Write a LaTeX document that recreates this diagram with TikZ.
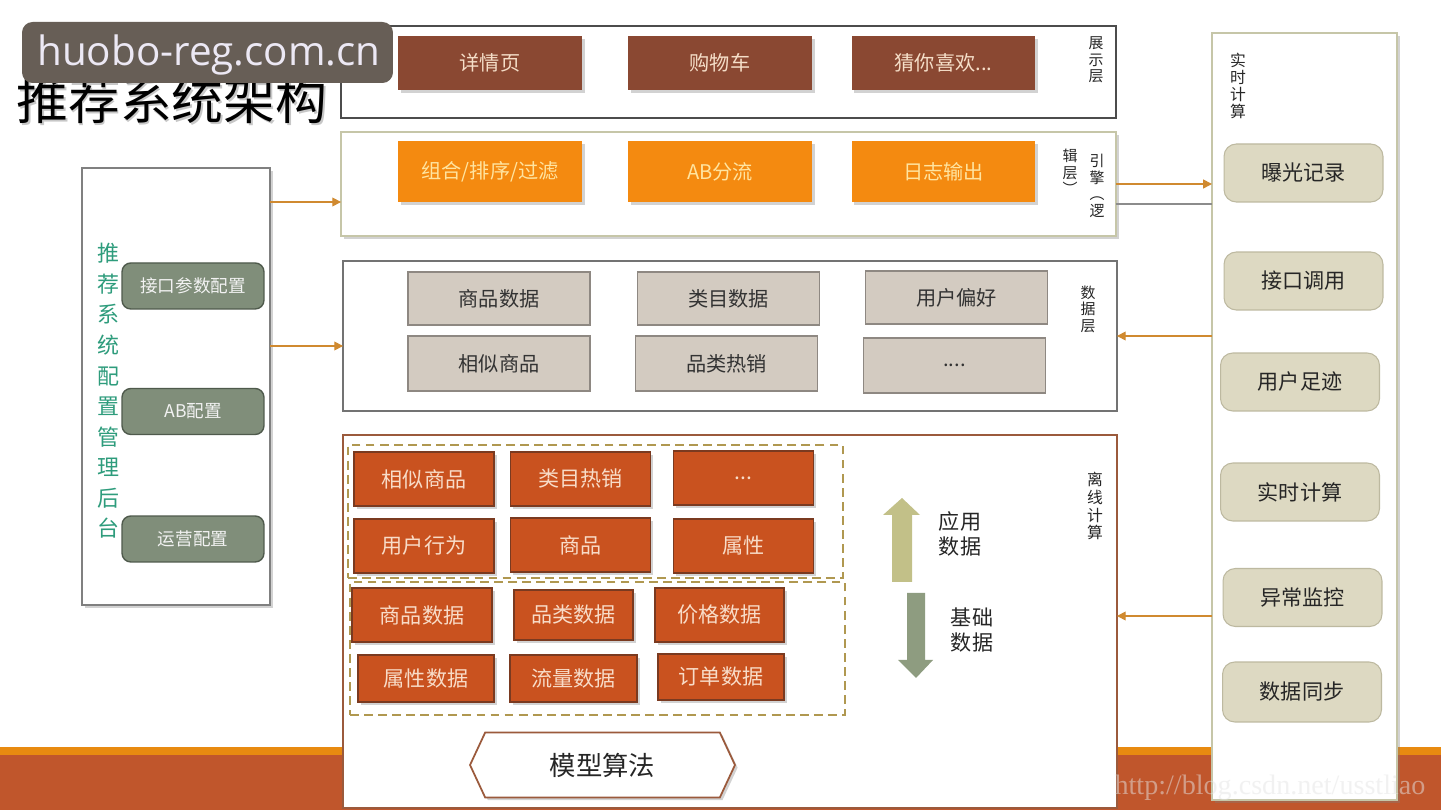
\documentclass[tikz,border=0pt]{standalone}
\usepackage{fontspec}
\setmainfont{Noto Sans CJK SC}
\newfontfamily\wmfont{Open Sans}
\newfontfamily\serifwm{Liberation Serif}
\usetikzlibrary{shadows,arrows.meta,shapes.symbols}
\definecolor{showbrown}{HTML}{8A4832}
\definecolor{showtext}{HTML}{F5DEC8}
\definecolor{engorange}{HTML}{F48A10}
\definecolor{engtext}{HTML}{FFE4A0}
\definecolor{datagray}{HTML}{D3CBC1}
\definecolor{databorder}{HTML}{8E8882}
\definecolor{offred}{HTML}{C9521F}
\definecolor{offborder}{HTML}{7A3A20}
\definecolor{offtext}{HTML}{F8DCC8}
\definecolor{dashcol}{HTML}{B09850}
\definecolor{uparr}{HTML}{C2C088}
\definecolor{downarr}{HTML}{8E9C80}
\definecolor{cfggreen}{HTML}{808E7A}
\definecolor{cfgborder}{HTML}{4F5A4C}
\definecolor{tealtext}{HTML}{2E9C7C}
\definecolor{rtbox}{HTML}{DDD9C2}
\definecolor{rtboxborder}{HTML}{BDB9A0}
\definecolor{rtborder}{HTML}{C6C6A8}
\definecolor{arrorange}{HTML}{D08A30}
\definecolor{barorange}{HTML}{E88A10}
\definecolor{barbrown}{HTML}{C0562C}
\definecolor{wmgray}{HTML}{675E56}
\definecolor{wmtext}{HTML}{ECE8F4}
\definecolor{hexborder}{HTML}{9B5A3C}
\tikzset{
  layer/.style={draw, fill=white, inner sep=0pt, outer sep=0pt, line width=1pt},
  shd/.style={drop shadow={shadow xshift=1.5pt, shadow yshift=-1.5pt, opacity=0.35}},
  showbox/.style={fill=showbrown, text=showtext, minimum width=3.68cm, minimum height=1.08cm, inner sep=0pt, font=\fontsize{11.5}{13}\selectfont, shd},
  engbox/.style={fill=engorange, text=engtext, minimum width=3.68cm, minimum height=1.22cm, inner sep=0pt, font=\fontsize{11.5}{13}\selectfont, shd},
  databox/.style={fill=datagray, draw=databorder, line width=0.6pt, text=black!80, minimum width=3.64cm, inner sep=0pt, font=\fontsize{11.5}{13}\selectfont},
  offbox/.style={fill=offred, draw=offborder, line width=0.6pt, text=offtext, inner sep=0pt, font=\fontsize{12}{14}\selectfont, shd},
  dashbox/.style={draw=dashcol, dashed, line width=1pt, dash pattern=on 5pt off 3pt, inner sep=0pt},
  cfgbox/.style={fill=cfggreen, draw=cfgborder, line width=0.8pt, rounded corners=5pt, text=white!95!black, minimum width=2.84cm, minimum height=0.92cm, inner sep=0pt, font=\fontsize{10}{12}\selectfont},
  rtitem/.style={fill=rtbox, draw=rtboxborder, line width=0.6pt, rounded corners=7pt, text=black!85, minimum width=3.18cm, minimum height=1.16cm, inner sep=0pt, font=\fontsize{12}{14}\selectfont},
  vlabel/.style={align=center, inner sep=0pt, text=black!85, font=\fontsize{8.5}{9.4}\selectfont},
  arr/.style={draw=arrorange, line width=0.8pt, -{Triangle[length=5pt,width=5pt]}},
  txt/.style={align=center, inner sep=0pt, text=black!85, font=\fontsize{12}{14.2}\selectfont}
}
\begin{document}
\begin{tikzpicture}[x=0.02cm,y=-0.02cm]
\useasboundingbox (0,0) rectangle (1441,810);
\fill[white] (0,0) rectangle (1441,810);
\fill[barorange] (0,747) rectangle (1441,755);
\fill[barbrown] (0,755) rectangle (1441,810);

% ---------- layers ----------
\node[layer, draw=black!70, minimum width=15.5cm, minimum height=1.84cm] (show) at (728.5,72) {};
\node[layer, draw=rtborder, minimum width=15.5cm, minimum height=2.08cm, shd] (eng) at (728.5,184) {};
\node[layer, draw=black!55, minimum width=15.48cm, minimum height=3.0cm] (data) at (730,336) {};
\node[layer, draw=hexborder, minimum width=15.48cm, minimum height=7.46cm] (off) at (730,621.5) {};

% show layer
\node[showbox] (s1) at (490,63) {详情页};
\node[showbox] (s2) at (720,63) {购物车};
\node[showbox] (s3) at (943.5,63) {猜你喜欢...};
\node[vlabel] (showlbl) at (1096,60) {展\\示\\层};

% engine layer
\node[engbox] (e1) at (490,171.5) {组合/排序/过滤};
\node[engbox] (e2) at (720,171.5) {AB分流};
\node[engbox] (e3) at (943.5,171.5) {日志输出};
\node[vlabel] (englblA) at (1097,186) {引\\擎\\︵\\逻};
\node[vlabel] (englblB) at (1070,172) {辑\\层\\︶};

% data layer
\node[databox, minimum height=1.06cm] (d1) at (499,298.5) {商品数据};
\node[databox, minimum height=1.06cm] (d2) at (728.5,298.5) {类目数据};
\node[databox, minimum height=1.06cm] (d3) at (956.5,297.5) {用户偏好};
\node[databox, minimum height=1.1cm] (d4) at (499,363.5) {相似商品};
\node[databox, minimum height=1.1cm] (d5) at (726.5,363.5) {品类热销};
\node[databox, minimum height=1.1cm] (d6) at (954.5,365.5) {....};
\node[vlabel] (datalbl) at (1088,309) {数\\据\\层};

% offline layer
\node[dashbox, minimum width=9.9cm, minimum height=2.66cm] (dash1) at (595.5,511.5) {};
\node[dashbox, minimum width=9.9cm, minimum height=2.66cm] (dash2) at (597.5,648.5) {};
\node[offbox, minimum width=2.8cm, minimum height=1.08cm] (o1) at (424,479) {相似商品};
\node[offbox, minimum width=2.8cm, minimum height=1.08cm] (o2) at (580.5,479) {类目热销};
\node[offbox, minimum width=2.8cm, minimum height=1.08cm] (o3) at (743.5,478) {...};
\node[offbox, minimum width=2.8cm, minimum height=1.08cm] (o4) at (424,546) {用户行为};
\node[offbox, minimum width=2.8cm, minimum height=1.08cm] (o5) at (580.5,545) {商品};
\node[offbox, minimum width=2.8cm, minimum height=1.08cm] (o6) at (743.5,546) {属性};
\node[offbox, minimum width=2.8cm, minimum height=1.08cm] (o7) at (422,615) {商品数据};
\node[offbox, minimum width=2.38cm, minimum height=1.0cm] (o8) at (573.5,615) {品类数据};
\node[offbox, minimum width=2.58cm, minimum height=1.08cm] (o9) at (719.5,615) {价格数据};
\node[offbox, minimum width=2.72cm, minimum height=0.94cm] (o10) at (426,678.5) {属性数据};
\node[offbox, minimum width=2.54cm, minimum height=0.94cm] (o11) at (573.5,678.5) {流量数据};
\node[offbox, minimum width=2.52cm, minimum height=0.92cm] (o12) at (721,677) {订单数据};
\node[vlabel, font=\fontsize{9}{10.2}\selectfont] (offlbl) at (1095,506) {离\\线\\计\\算};

% up / down block arrows
\fill[uparr] (892,582) -- (892,515) -- (883,515) -- (902,498) -- (920,515) -- (912,515) -- (912,582) -- cycle;
\fill[downarr] (907,593) -- (925,593) -- (925,660) -- (933,660) -- (916,678) -- (898,660) -- (907,660) -- cycle;
\node[txt] (appdata) at (960,534) {应用\\数据};
\node[txt] (basedata) at (972,630) {基础\\数据};

% model algorithm
\node[signal, signal to=west and east, signal pointer angle=130, draw=hexborder, line width=1pt, fill=white,
      minimum width=5.3cm, minimum height=1.3cm, inner sep=0pt, text=black!85,
      font=\fontsize{15}{17}\selectfont, shd] (model) at (602.5,765) {模型算法};

% ---------- right column ----------
\node[layer, draw=rtborder, line width=1.2pt, minimum width=3.7cm, minimum height=15.34cm, shd] (rt) at (1304.5,416.5) {};
\node[vlabel, font=\fontsize{9}{9.8}\selectfont] (rtlbl) at (1238,86) {实\\时\\计\\算};
\node[rtitem] (r1) at (1303.5,173) {曝光记录};
\node[rtitem] (r2) at (1303.5,281) {接口调用};
\node[rtitem] (r3) at (1300,382) {用户足迹};
\node[rtitem] (r4) at (1300,492) {实时计算};
\node[rtitem] (r5) at (1302.5,597.5) {异常监控};
\node[rtitem, minimum height=1.2cm] (r6) at (1302,692) {数据同步};

% ---------- left panel ----------
\node[layer, draw=black!50, line width=0.9pt, minimum width=3.76cm, minimum height=8.74cm, shd] (left) at (176,386.5) {};
\node[align=center, inner sep=0pt, text=tealtext, font=\fontsize{12.5}{17.4}\selectfont] (leftlbl) at (108,391) {推\\荐\\系\\统\\配\\置\\管\\理\\后\\台};
\node[cfgbox] (c1) at (193,286) {接口参数配置};
\node[cfgbox] (c2) at (193,411.5) {AB配置};
\node[cfgbox] (c3) at (193,539) {运营配置};

% ---------- connectors ----------
\coordinate (yA) at (0,202);
\coordinate (yB) at (0,346);
\coordinate (yC) at (0,204);
\coordinate (yD) at (0,616);
\draw[arr] (left.east |- yA) -- (eng.west |- yA);
\draw[arr] (left.east |- yB) -- (data.west |- yB);
\draw[arr] (eng.east) -- (rt.west |- eng.east);
\draw[draw=black!45, line width=0.8pt] (eng.east |- yC) -- (rt.west |- yC);
\draw[arr] (rt.west |- data.east) -- (data.east);
\draw[arr] (rt.west |- yD) -- (off.east |- yD);

% ---------- title & watermarks ----------
\node[inner sep=0pt, text=black!22, font=\fontsize{29.5}{32}\selectfont] (titleshadow) at (173.5,101.5) {推荐系统架构};
\node[inner sep=0pt, text=black, font=\fontsize{29.5}{32}\selectfont] (title) at (172,100) {推荐系统架构};
\node[fill=wmgray, rounded corners=6pt, minimum width=7.42cm, minimum height=1.22cm, inner sep=0pt] (wm) at (207.5,52.5) {};
\node[inner sep=0pt, text=wmtext, font=\wmfont\fontsize{23}{26}\selectfont] (wmtxt) at (209,55) {huobo-reg.com.cn};
\node[inner sep=0pt, text=white!80!gray, opacity=0.5, font=\serifwm\fontsize{16}{18}\selectfont] (csdn) at (1270,788) {http://blog.csdn.net/usstliao};
\end{tikzpicture}
\end{document}
